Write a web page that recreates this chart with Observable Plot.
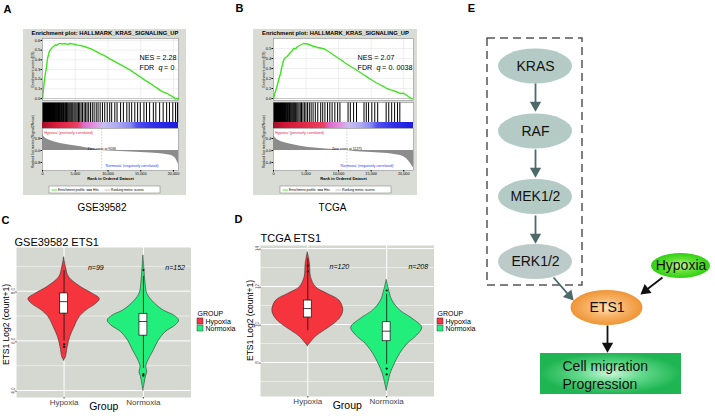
<!DOCTYPE html>
<html><head><meta charset="utf-8">
<script src="https://cdn.jsdelivr.net/npm/d3@7"></script>
<script src="https://cdn.jsdelivr.net/npm/@observablehq/plot@0.6"></script>
<style>
html,body{margin:0;padding:0;background:#fff;}
#fig{position:relative;width:715px;height:416px;overflow:hidden;background:#fff;font-family:"Liberation Sans",Arial,sans-serif;}
#fig svg{position:absolute;}
</style></head><body><div id="fig"></div>
<script>
// ---------------- DATA ----------------
// Panel A (GSE39582) GSEA: running enrichment score [rank, ES]
const esA = [[0,0],[120,0.08],[260,0.17],[420,0.25],[610,0.32],[760,0.41],[900,0.45],[1070,0.49],[1300,0.51],[1530,0.53],[1750,0.54],[1980,0.555],[2200,0.55],[2450,0.565],[2750,0.57],[3050,0.562],[3350,0.568],[3820,0.56],[4200,0.568],[4580,0.565],[5000,0.558],[5400,0.552],[5800,0.548],[6300,0.538],[6800,0.527],[7330,0.515],[7800,0.5],[8300,0.482],[8850,0.462],[9400,0.445],[9900,0.425],[10400,0.405],[10840,0.39],[11400,0.368],[11900,0.35],[12450,0.33],[12980,0.31],[13500,0.29],[14000,0.265],[14500,0.243],[14960,0.222],[15500,0.195],[16000,0.175],[16490,0.155],[17000,0.13],[17500,0.108],[18015,0.082],[18500,0.066],[19080,0.05],[19500,0.032],[19800,0.022],[20100,0.008],[20300,-0.004],[20450,0.004],[20600,-0.006],[20760,0.0]];
const hitsA = [5,30,62,88,120,150,185,214,250,282,318,350,392,428,466,505,540,582,620,664,702,745,790,832,878,920,965,1012,1060,1108,1160,1215,1266,1320,1382,1440,1498,1560,1625,1690,1756,1820,1890,1960,2040,2110,2190,2270,2350,2440,2530,2610,2700,2800,2890,2990,3090,3200,3300,3420,3530,3660,3780,3900,4040,4180,4330,4470,4620,4800,4960,5120,5300,5500,5680,5890,6100,6350,6580,6800,7050,7320,7600,7880,8200,8480,8800,9150,9500,9880,10260,10560,11040,11380,11920,12350,12870,13240,13610,14090,14520,14930,15480,15870,16350,16920,17300,17880,18420,18950,19380,19890,20310,20600];
const metricA = [[0,1.15],[100,1.0],[250,0.9],[460,0.82],[700,0.75],[1070,0.68],[1500,0.61],[2000,0.55],[2750,0.47],[3800,0.38],[4800,0.31],[5800,0.25],[6600,0.19],[7300,0.14],[8200,0.07],[9036,0],[10000,-0.03],[11900,-0.07],[13500,-0.1],[15000,-0.13],[16500,-0.17],[17560,-0.2],[18600,-0.25],[19540,-0.32],[20000,-0.4],[20300,-0.52],[20500,-0.68],[20650,-0.82],[20760,-0.95]];
const heatA = [[0,"#a0102a"],[1500,"#cf1636"],[3500,"#e32a48"],[5500,"#e94262"],[6300,"#d96ac8"],[7800,"#e48ee0"],[9400,"#c9bdf0"],[11500,"#acaaf2"],[13500,"#8888f2"],[14500,"#5050f0"],[17000,"#3030ea"],[20760,"#1c1ce0"]];
const statsA = ["2.28", "0", 9036, 20760];   // NES, FDR q, zero cross, list size

// Panel B (TCGA) GSEA
const esB = [[0,0],[150,0.04],[300,0.07],[460,0.1],[650,0.15],[850,0.2],[1080,0.25],[1300,0.32],[1540,0.38],[1700,0.4],[1850,0.41],[2100,0.42],[2350,0.44],[2600,0.46],[2850,0.475],[3080,0.5],[3400,0.498],[3700,0.52],[4000,0.53],[4300,0.54],[4600,0.55],[4900,0.548],[5230,0.545],[5600,0.535],[6000,0.525],[6400,0.518],[6770,0.51],[7200,0.505],[7700,0.498],[8200,0.48],[8700,0.46],[9230,0.435],[9800,0.41],[10400,0.385],[11000,0.355],[11850,0.32],[12500,0.295],[13100,0.27],[13800,0.24],[14460,0.212],[15100,0.185],[15700,0.16],[16300,0.14],[16920,0.12],[17400,0.1],[17900,0.088],[18400,0.078],[18770,0.07],[19200,0.058],[19540,0.05],[19900,0.054],[20300,0.04],[20700,0.02],[21080,0.002],[21300,-0.004]];
const hitsB = [4,26,50,78,104,132,160,192,224,256,290,326,360,398,436,476,516,560,602,648,694,742,790,842,894,948,1004,1060,1120,1182,1246,1312,1380,1452,1526,1604,1684,1768,1856,1946,2040,2140,2244,2350,2462,2578,2700,2826,2960,3100,3250,3400,3570,3740,3920,4110,4300,4520,4740,4980,5230,5500,5780,6080,6420,6800,7250,7560,7900,8300,8650,9000,9420,9850,10200,11450,11800,12300,12750,13900,14250,14600,15100,15550,16000,17300,17700,18150,18600,19050,19400];
const metricB = [[0,0.55],[150,0.46],[300,0.42],[600,0.36],[1200,0.29],[2150,0.23],[3200,0.18],[4150,0.14],[5400,0.1],[6770,0.075],[8000,0.05],[9230,0.03],[10300,0.013],[11275,0],[12300,-0.03],[13600,-0.05],[15000,-0.07],[16300,-0.085],[17540,-0.1],[18600,-0.13],[19500,-0.17],[20000,-0.21],[20400,-0.27],[20800,-0.36],[21100,-0.45],[21300,-0.52],[21500,-0.58]];
const heatB = [[0,"#a0102a"],[1800,"#cf1636"],[5000,"#e32a48"],[7800,"#e94262"],[8600,"#d96ac8"],[10300,"#e48ee0"],[11600,"#c9bdf0"],[13500,"#acaaf2"],[15000,"#8888f2"],[16000,"#5050f0"],[18500,"#3030ea"],[21500,"#1c1ce0"]];
const statsB = ["2.07", "0. 0038", 11275, 21500];

const rankTicks = [0, 5000, 10000, 15000, 20000];
const gseaTitle = "Enrichment plot: HALLMARK_KRAS_SIGNALING_UP";
const gseaLegend = ["Enrichment profile", "Hits", "Ranking metric scores"];

// Panels C/D: violin profiles [ETS1 value, relative density]
const groups = ["Hypoxia", "Normoxia"];
const groupColors = ["#f5343d", "#22ef7b"];
const nC = [99, 152];
const nD = [120, 208];
const cHyp = [[5.21,0],[5.34,0.05],[5.74,0.1],[6.15,0.17],[6.55,0.29],[6.95,0.43],[7.22,0.62],[7.49,0.9],[7.69,1.0],[7.89,0.81],[8.16,0.48],[8.56,0.14],[8.97,0.05],[9.37,0]];
const cNor = [[4.0,0],[4.33,0.04],[4.56,0.07],[4.74,0.11],[4.94,0.08],[5.21,0.14],[5.61,0.29],[6.01,0.43],[6.35,0.62],[6.62,0.9],[6.82,1.0],[7.02,0.86],[7.22,0.57],[7.49,0.33],[7.89,0.11],[8.3,0.06],[8.83,0.03],[9.44,0]];
const dHyp = [[8.86,0],[9.07,0.09],[9.33,0.21],[9.68,0.47],[10.04,0.75],[10.38,0.93],[10.77,1.0],[11.26,0.89],[11.61,0.56],[11.96,0.23],[12.49,0.09],[13.19,0.06],[13.81,0]];
const dNor = [[6.53,0],[6.96,0.05],[7.41,0.11],[7.93,0.23],[8.46,0.38],[8.98,0.59],[9.42,0.86],[9.83,1.0],[10.3,0.73],[10.74,0.38],[11.26,0.16],[11.79,0.07],[12.35,0]];
// box stats [lower whisker, Q1, median, Q3, upper whisker]
const boxC = [[6.0,7.1,7.58,7.91,8.83],[4.89,6.21,6.78,7.09,8.6]];
const boxD = [[9.68,10.37,10.84,11.26,13.46],[7.9,9.12,9.65,10.12,11.6]];
const outC = [[1,5.86],[1,5.76],[2,8.85],[2,4.66],[2,4.6]];
const outD = [[1,13.1],[1,12.8],[2,11.79],[2,7.68],[2,7.37]];
const ticksC = [4, 6, 8], minorC = [5, 7, 9];
const ticksD = [8, 10, 12, 14], minorD = [7, 9, 11, 13];

// Panel E: pathway diagram
const pathway = ["KRAS", "RAF", "MEK1/2", "ERK1/2"];
const stimulus = "Hypoxia";
const target = "ETS1";
const outcome = ["Cell migration", "Progression"];
const flowEdges = [["KRAS","RAF"],["RAF","MEK1/2"],["MEK1/2","ERK1/2"],["ERK1/2","ETS1"],["Hypoxia","ETS1"],["ETS1","outcome"]];

// ---------------- LAYOUT ----------------
const FONT = '"Liberation Sans", Arial, Helvetica, sans-serif';
const fig = document.getElementById("fig");
const baseStyle = {background: "transparent", fontFamily: FONT, overflow: "visible"};
function place(el, x, y) { el.style.position = "absolute"; el.style.left = x + "px"; el.style.top = y + "px"; fig.appendChild(el); }
const PX = {domain: [0, 715], range: [0, 715], axis: null};
const PY = {domain: [0, 416], range: [0, 416], axis: null};
const T = (data, o) => Plot.text(data, {x: d => d[1], y: d => d[2], text: d => d[0], ...o});

// base layer: backgrounds, titles, letters, legends
const gseaBoxes = [[23,29,186,195],[253,29,417,195]];
const gseaLeg = [49, 280];
const legY = 189.5;
const base = Plot.plot({
  width: 715, height: 416, margin: 0, x: PX, y: PY, color: {type: "identity"}, style: baseStyle,
  marks: [
    Plot.rect(gseaBoxes, {x1: d => d[0], y1: d => d[1], x2: d => d[2], y2: d => d[3], fill: "#d9dcd4"}),
    T([[gseaTitle, 104.5, 33], [gseaTitle, 335, 33]], {fontSize: 5.8, fontWeight: "bold"}),
    Plot.rect(gseaLeg, {x1: d => d, x2: d => d + 111, y1: 186, y2: 193, fill: "#fff", stroke: "#777", strokeWidth: 0.5}),
    Plot.link(gseaLeg.flatMap(l => [[l+2, "#3fe41f"], [l+37, "#111"], [l+55, "#bbb"]]), {x1: d => d[0], x2: d => d[0] + 5.5, y1: legY, y2: legY, stroke: d => d[1], strokeWidth: 0.9}),
    T(gseaLeg.flatMap(l => [[gseaLegend[0], l+8.5, legY], [gseaLegend[1], l+43.5, legY], [gseaLegend[2], l+61.5, legY]]), {fontSize: 3.3, textAnchor: "start"}),
    T([["Enrichment score (ES)", 32, 69], ["Ranked list metric (Signal2Noise)", 32, 141], ["Enrichment score (ES)", 263, 69], ["Ranked list metric (Signal2Noise)", 263, 141]], {fontSize: 3.6, rotate: -90}),
    T([["A", 7, 9], ["B", 239, 8], ["C", 5, 220], ["D", 238, 219], ["E", 471, 8]], {fontSize: 11, fontWeight: "bold"}),
    T([["GSE39582", 101.5, 207], ["TCGA", 332, 207]], {fontSize: 10}),
    T([["GSE39582 ETS1", 14, 242], ["TCGA ETS1", 260, 238]], {fontSize: 11, textAnchor: "start"}),
    T([["ETS1 Log2 (count+1)", 6, 324], ["ETS1 Log2 (count+1)", 250, 320]], {fontSize: 8.5, rotate: -90}),
    T([["GROUP", 197, 313], ["GROUP", 437, 313]], {fontSize: 7, textAnchor: "start"}),
    Plot.rect([[197,0],[197,1],[437,0],[437,1]], {x1: d => d[0], x2: d => d[0] + 6, y1: d => 318 + d[1]*7, y2: d => 324 + d[1]*7, fill: d => groupColors[d[1]], stroke: "#333", strokeWidth: 0.5}),
    T([[groups[0], 205, 321], [groups[1], 205, 328], [groups[0], 445, 321], [groups[1], 445, 328]], {fontSize: 7, textAnchor: "start"})
  ]
});
place(base, 0, 0);

// ---------------- GSEA ----------------
function gsea(c) {
  const mL = 14, mR = 2, w = c.R - c.L + mL + mR;
  const X = {domain: [0, c.stats[3]]};
  const common = {width: w, marginLeft: mL, marginRight: mR, style: baseStyle};
  const fs = 7.2;
  const tx = (s, dx, dy, o = {}) => Plot.text([s], {frameAnchor: "top-left", textAnchor: "start", dx, dy, fontSize: fs, text: d => d, ...o});
  const p1 = Plot.plot({...common, height: 62, marginTop: 0, marginBottom: 0,
    x: {...X, axis: null}, y: {domain: c.esDomain},
    marks: [
      Plot.frame({fill: "#fff"}),
      Plot.ruleY(c.esTicks, {stroke: "#dedede", strokeWidth: 0.5}),
      Plot.ruleX(rankTicks.slice(1), {stroke: "#dedede", strokeWidth: 0.5}),
      Plot.ruleY([0], {stroke: "#9a9a9a", strokeWidth: 0.5}),
      Plot.line(c.es, {x: d => d[0], y: d => d[1], stroke: "#3fe41f", strokeWidth: 1.4}),
      Plot.frame({stroke: "#8c8c8c", strokeWidth: 0.6}),
      Plot.axisY({ticks: c.esTicks, tickFormat: d3.format(".1f"), tickSize: 1.5, tickPadding: 0.8, fontSize: 4, label: null}),
      tx("NES = " + c.stats[0], c.nesDx, 16),
      tx("FDR", c.nesDx, 26),
      tx("q", c.nesDx + 19, 26, {fontStyle: "italic"}),
      tx("=", c.nesDx + 24.5, 26),
      tx(c.stats[1], c.nesDx + 31, 26)
    ]});
  place(p1, c.L - mL, 38);

  const p2 = Plot.plot({...common, height: 20, marginTop: 0, marginBottom: 0,
    x: {...X, axis: null}, y: {domain: [0, 1], axis: null},
    marks: [
      Plot.frame({fill: "#fff"}),
      Plot.ruleX(c.hits, {x: d => d, stroke: "#000", strokeWidth: 1}),
      Plot.frame({stroke: "#8c8c8c", strokeWidth: 0.6})
    ]});
  place(p2, c.L - mL, 102);

  const gid = "heat" + c.id;
  const p3 = Plot.plot({...common, height: 6, marginTop: 0, marginBottom: 0,
    x: {...X, axis: null}, y: {domain: [0, 1], axis: null},
    marks: [
      () => { const s = d3.create("svg:defs"); const g = s.append("linearGradient").attr("id", gid);
              c.heat.forEach(([r, col]) => g.append("stop").attr("offset", r / c.stats[3]).attr("stop-color", col));
              return s.node(); },
      Plot.rect([c.stats[3]], {x1: 0, x2: d => d, y1: 0, y2: 1, fill: `url(#${gid})`})
    ]});
  place(p3, c.L - mL, 122);

  const p4 = Plot.plot({...common, height: 56, marginTop: 0, marginBottom: 14,
    x: X, y: {domain: c.mDomain},
    marks: [
      Plot.frame({fill: "#fff"}),
      Plot.areaY(c.metric, {x: d => d[0], y: d => d[1], fill: "#8c8c8c"}),
      Plot.ruleX([c.stats[2]], {stroke: "#999", strokeWidth: 0.5, strokeDasharray: "1.5,1.5"}),
      Plot.text([c.stats[2]], {x: d => d, y: 0, dy: -2, fontSize: 3.4, text: d => "Zero cross at " + d}),
      Plot.text(["'Hypoxia' (positively correlated)"], {frameAnchor: "top-left", textAnchor: "start", dx: 1, dy: 3, fontSize: 3.6, fill: "#e5204a", text: d => d}),
      Plot.text(["'Normoxia' (negatively correlated)"], {frameAnchor: "bottom-right", textAnchor: "end", dx: -20, dy: -4, fontSize: 3.6, fill: "#2b3cf0", text: d => d}),
      Plot.frame({stroke: "#8c8c8c", strokeWidth: 0.6}),
      Plot.axisY({ticks: c.mTicks, tickFormat: d3.format(".1f"), tickSize: 1.5, tickPadding: 0.8, fontSize: 4, label: null}),
      Plot.axisX({ticks: rankTicks, tickFormat: d3.format(","), tickSize: 1.5, tickPadding: 0.5, fontSize: 3.8, label: null}),
      Plot.text(["Rank in Ordered Dataset"], {frameAnchor: "bottom", dy: 9, fontSize: 4, fontWeight: "bold", text: d => d})
    ]});
  place(p4, c.L - mL, 128);
}
gsea({id: "A", L: 42, R: 178, es: esA, esDomain: [-0.02, 0.62], esTicks: [0,0.1,0.2,0.3,0.4,0.5,0.6], hits: hitsA, heat: heatA,
      metric: metricA, mDomain: [-1.333, 1.467], mTicks: [0.8, 0, -0.8], stats: statsA, nesDx: 97});
gsea({id: "B", L: 273, R: 413, es: esB, esDomain: [-0.02, 0.6], esTicks: [0,0.1,0.2,0.3,0.4,0.5], hits: hitsB, heat: heatB,
      metric: metricB, mDomain: [-0.667, 0.733], mTicks: [0.4, 0, -0.4], stats: statsB, nesDx: 84});

// ---------------- VIOLINS ----------------
function violin(c) {
  const mL = 16, HW = 0.45, BW = 0.05;
  const p = Plot.plot({
    width: c.R - c.L + mL, height: c.B - c.Tp + 20, marginLeft: mL, marginRight: 0, marginTop: 0, marginBottom: 20,
    x: {domain: [0.4, 2.6]}, y: {domain: c.yDomain}, style: baseStyle,
    marks: [
      Plot.frame({fill: "#d5d8d0"}),
      Plot.ruleY(c.minor, {stroke: "#fff", strokeWidth: 0.5}),
      Plot.ruleY(c.major, {stroke: "#fff", strokeWidth: 1}),
      Plot.ruleX([1, 2], {stroke: "#fff", strokeWidth: 1}),
      ...c.profiles.map((pr, i) => Plot.areaX(pr, {y: d => d[0], x1: d => i + 1 - d[1]*HW, x2: d => i + 1 + d[1]*HW,
        fill: groupColors[i], stroke: "#333", strokeWidth: 0.6, curve: "catmull-rom"})),
      Plot.ruleX(c.box, {x: (d, i) => i + 1, y1: d => d[0], y2: d => d[4], stroke: "#111", strokeWidth: 0.8}),
      Plot.rect(c.box, {x1: (d, i) => i + 1 - BW, x2: (d, i) => i + 1 + BW, y1: d => d[1], y2: d => d[3], fill: "#fff", stroke: "#111", strokeWidth: 0.7}),
      Plot.ruleY(c.box, {y: d => d[2], x1: (d, i) => i + 1 - BW, x2: (d, i) => i + 1 + BW, stroke: "#111", strokeWidth: 0.8}),
      Plot.dot(c.out, {x: d => d[0], y: d => d[1], r: 1.1, fill: "#111"}),
      Plot.text(c.n, {x: (d, i) => i + 1.4, frameAnchor: "top", dy: c.nDy, text: d => "n=" + d, fontStyle: "italic", fontSize: 7}),
      Plot.axisX({ticks: [1, 2], tickFormat: d => groups[d - 1], tickSize: 1.5, tickPadding: 0.5, fontSize: 8, color: "#444", label: null}),
      Plot.axisY({ticks: c.major, tickSize: 1.5, tickPadding: 1, fontSize: 4.5, rotate: -90, textAnchor: "middle", color: "#555", label: null}),
      Plot.text(["Group"], {frameAnchor: "bottom", dy: 12, fontSize: 10.5, text: d => d})
    ]});
  place(p, c.L - mL, c.Tp);
}
violin({L: 16, R: 190.5, Tp: 247, B: 397, yDomain: [3.72, 9.76], major: ticksC, minor: minorC,
        profiles: [cHyp, cNor], box: boxC, out: outC, n: nC, nDy: 18});
violin({L: 260, R: 433.5, Tp: 245, B: 396, yDomain: [6.21, 14.16], major: ticksD, minor: minorD,
        profiles: [dHyp, dNor], box: boxD, out: outD, n: nD, nDy: 19});

// ---------------- FLOW DIAGRAM ----------------
const nodePos = {"KRAS": [535, 66], "RAF": [535, 131], "MEK1/2": [535, 196.5], "ERK1/2": [535, 261.5], "Hypoxia": [680.5, 265.5], "ETS1": [606.5, 307.5]};
const edgeGeom = [[535,83,535,111],[535,149,535,177],[535,215,535,243],[553,277,573,300],[662,277,640,294],[607,325,607,352]];
const edgeCol = ["#4e6969","#4e6969","#4e6969","#4e6969","#111","#111"];
const arrows = flowEdges.map((e, i) => {
  const [x1, y1, x2, y2] = edgeGeom[i];
  const L = Math.hypot(x2 - x1, y2 - y1), ux = (x2 - x1) / L, uy = (y2 - y1) / L, hc = 6.4;
  return {x1, y1, hx: x2 - ux*hc, hy: y2 - uy*hc, rot: Math.atan2(ux, -uy) * 180 / Math.PI, col: edgeCol[i]};
});
const flow = Plot.plot({
  width: 715, height: 416, margin: 0, x: PX, y: PY, color: {type: "identity"}, style: baseStyle,
  marks: [
    () => { const s = d3.create("svg:defs");
      const rg = (id, stops) => { const g = s.append("radialGradient").attr("id", id);
        stops.forEach(([o, c]) => g.append("stop").attr("offset", o).attr("stop-color", c)); };
      rg("gHyp", [[0, "#c6f79a"], [0.5, "#66e236"], [1, "#2fcf12"]]);
      rg("gEts", [[0, "#fde2bd"], [0.5, "#f7b468"], [1, "#ef9436"]]);
      rg("gBox", [[0, "#cdf6da"], [0.45, "#62d98c"], [1, "#1fb552"]]);
      return s.node(); },
    Plot.rect([[487, 38, 582, 285]], {x1: d => d[0], y1: d => d[1], x2: d => d[2], y2: d => d[3], fill: "none", stroke: "#555", strokeWidth: 1.5, strokeDasharray: "8,5"}),
    Plot.rect(pathway, {x1: d => nodePos[d][0] - 37, x2: d => nodePos[d][0] + 37, y1: d => nodePos[d][1] - 17.5, y2: d => nodePos[d][1] + 17.5, rx: 37, ry: 17.5, fill: d => d === "ERK1/2" ? "#bccbc9" : "#b4cbc5"}),
    Plot.rect([stimulus], {x1: d => nodePos[d][0] - 29.5, x2: d => nodePos[d][0] + 29.5, y1: d => nodePos[d][1] - 12.5, y2: d => nodePos[d][1] + 12.5, rx: 29.5, ry: 12.5, fill: "url(#gHyp)"}),
    Plot.rect([target], {x1: d => nodePos[d][0] - 36, x2: d => nodePos[d][0] + 36, y1: d => nodePos[d][1] - 17.5, y2: d => nodePos[d][1] + 17.5, rx: 36, ry: 17.5, fill: "url(#gEts)"}),
    Plot.rect([[540, 353, 681, 394]], {x1: d => d[0], y1: d => d[1], x2: d => d[2], y2: d => d[3], fill: "url(#gBox)"}),
    Plot.link(arrows, {x1: "x1", y1: "y1", x2: "hx", y2: "hy", stroke: "col", strokeWidth: 1.8}),
    Plot.dot(arrows, {x: "hx", y: "hy", symbol: "triangle", r: 4.2, fill: "col", stroke: "none", rotate: "rot"}),
    Plot.text([...pathway, stimulus, target], {x: d => nodePos[d][0], y: d => nodePos[d][1], text: d => d, fontSize: 14, fill: "#111"}),
    Plot.text([outcome.join("\n")], {x: 562, y: 373.5, text: d => d, textAnchor: "start", lineHeight: 1.28, fontSize: 14, fill: "#111"})
  ]
});
place(flow, 0, 0);
</script></body></html>
